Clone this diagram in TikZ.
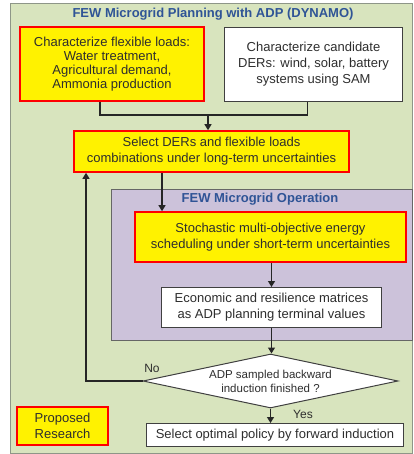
\documentclass[tikz,border=0pt]{standalone}
\usepackage{fontspec}
\setmainfont{Liberation Sans}
\usetikzlibrary{shapes.geometric,arrows.meta}

\definecolor{fewgreen}{HTML}{D8E4BE}
\definecolor{fewpurple}{HTML}{CCC2DA}
\definecolor{framegray}{HTML}{8E9688}
\definecolor{textgray}{HTML}{2E2E2E}
\definecolor{titleblue}{HTML}{2F5496}

\tikzset{
  yellowbox/.style={draw=red, line width=1.6pt, fill=yellow, align=center, text=textgray, inner sep=1pt},
  whitebox/.style={draw=black!75, line width=1pt, fill=white, align=center, text=textgray, inner sep=1pt},
  paneltitle/.style={text=titleblue, font=\bfseries\fontsize{13}{15}\selectfont},
  arr/.style={-{Triangle[length=6pt,width=7pt]}, line width=1.2pt, draw=black!85},
  link/.style={line width=1.2pt, draw=black!85},
}

\begin{document}
\begin{tikzpicture}[x=1pt,y=-1pt, font=\fontsize{13}{16}\selectfont]
\useasboundingbox (0,0) rectangle (413,454);

\draw[draw=framegray, fill=fewgreen, line width=1pt] (10,4) rectangle (412,453);
\node[paneltitle] (plantitle) at (213,14) {FEW Microgrid Planning with ADP (DYNAMO)};

\draw[draw=black!60, fill=fewpurple, line width=1pt] (111,189) rectangle (412,340);
\node[paneltitle] (optitle) at (260,199) {FEW Microgrid Operation};

\node[yellowbox, minimum width=184pt, minimum height=74pt, font=\fontsize{13}{14}\selectfont] (loads) at (112,64)
  {Characterize flexible loads:\\Water treatment,\\Agricultural demand,\\Ammonia production};
\node[whitebox, minimum width=178pt, minimum height=74pt] (ders) at (313.5,64.5)
  {Characterize candidate\\DERs: wind, solar, battery\\systems using SAM};
\node[yellowbox, minimum width=275pt, minimum height=41pt] (select) at (211.5,151.5)
  {Select DERs and flexible loads\\combinations under long-term uncertainties};
\node[yellowbox, minimum width=271pt, minimum height=50pt] (sched) at (270.5,237)
  {Stochastic multi-objective energy\\scheduling under short-term uncertainties};
\node[whitebox, minimum width=220pt, minimum height=40pt] (econ) at (271.5,307.5)
  {Economic and resilience matrices\\as ADP planning terminal values};
\node[diamond, aspect=4.7, draw=black!75, line width=1pt, fill=white, text=textgray, align=center,
  minimum width=255pt, minimum height=54pt, inner sep=0pt, font=\fontsize{11.5}{14}\selectfont] (done) at (270.5,381)
  {ADP sampled backward\\induction finished ?};
\node[whitebox, minimum width=257pt, minimum height=23pt] (policy) at (275,435)
  {Select optimal policy by forward induction};
\node[yellowbox, minimum width=91pt, minimum height=38pt] (proposed) at (62.5,426)
  {Proposed\\Research};

\coordinate (merge) at (208,115);
\coordinate (down) at (162,0);
\coordinate (back) at (86,381);

\draw[link] ([xshift=-12pt]loads.south) |- (merge) -| ([xshift=-6pt]ders.south);
\draw[arr] (merge) -- (merge |- select.north);
\draw[arr] (select.south -| down) -- (sched.north -| down);
\draw[arr] (sched.south -| econ.south) -- (econ.north);
\draw[arr] (econ.south) -- (econ.south |- done.north);
\draw[arr] (done.west) -- (back) -- (back |- select.south);
\draw[arr] (done.south) -- (done.south |- policy.north);

\node[text=textgray, font=\fontsize{12}{14}\selectfont] (nolabel) at (152,368) {No};
\node[text=textgray, font=\fontsize{12}{14}\selectfont] (yeslabel) at (303,414) {Yes};
\end{tikzpicture}
\end{document}
